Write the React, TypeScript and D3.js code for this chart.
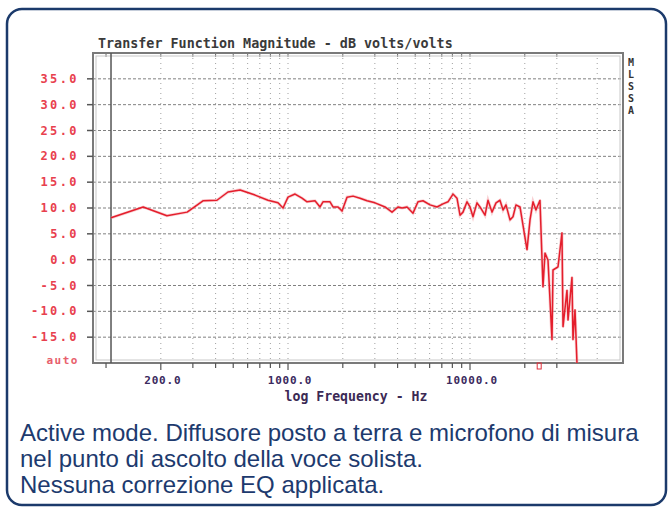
import * as d3 from 'd3';

const freqHz = [106.5, 160, 216, 279, 341, 407, 468, 545, 659, 776, 881, 939, 1000, 1093, 1194, 1272, 1407, 1499, 1557, 1701, 1767, 1883, 1980, 2110, 2276, 2487, 2717, 3006, 3412, 3728, 4021, 4231, 4507, 4862, 5179, 5518, 6029, 6587, 7105, 7570, 8065, 8483, 8812, 9152, 9628, 10000, 10387, 10925, 11350, 12090, 12560, 13210, 13900, 14610, 15190, 15770, 16590, 17230, 17890, 18830, 19550, 20570, 21370, 22190, 23040, 24240, 25180, 25830, 26830, 28220, 28580, 30450, 32020, 32440, 34120, 34560, 36340, 36800, 37760, 38710];
const magDb = [8.1, 10.2, 8.5, 9.2, 11.4, 11.5, 13.1, 13.5, 12.5, 11.5, 11.0, 10.0, 12.1, 12.7, 11.9, 11.2, 11.4, 10.2, 11.2, 11.2, 10.2, 10.2, 9.4, 12.1, 12.3, 11.9, 11.4, 11.0, 10.2, 9.2, 10.2, 10.0, 10.2, 9.0, 11.2, 11.4, 10.6, 10.2, 10.8, 11.2, 12.7, 11.9, 8.6, 9.2, 11.2, 10.2, 8.3, 11.0, 10.2, 8.6, 11.5, 9.2, 11.0, 11.5, 9.6, 10.6, 7.7, 8.3, 10.6, 10.2, 6.7, 1.9, 7.7, 11.2, 9.6, 11.5, -5.3, 1.3, -0.1, -15.5, -2.0, -1.4, 5.2, -13.0, -5.9, -11.7, -3.4, -15.5, -9.7, -20];

const yTicks = [35, 30, 25, 20, 15, 10, 5, 0, -5, -10, -15];
const xLabelTicks = [200, 1000, 10000];
const xMinorTicks = [100, 200, 300, 400, 500, 600, 700, 800, 900, 1000, 2000, 3000, 4000, 5000, 6000, 7000, 8000, 9000, 10000, 20000, 30000];
const xGrid = [200, 300, 400, 500, 600, 700, 800, 900, 1000, 2000, 3000, 4000, 5000, 6000, 7000, 8000, 9000, 10000, 20000, 30000, 50000];
const sideLabel = ['M', 'L', 'S', 'S', 'A'];
const caption = [
  'Active mode. Diffusore posto a terra e microfono di misura',
  'nel punto di ascolto della voce solista.',
  'Nessuna correzione EQ applicata.',
];

const W = 672;
const H = 507;
const plot = { left: 93, right: 623, top: 53, bottom: 363 };

const x = d3.scaleLog().domain([84.8, 69300]).range([plot.left, plot.right]);
const y = d3.scaleLinear().domain([-20, 40]).range([plot.bottom, plot.top]);

const mono = '"DejaVu Sans Mono", monospace';

export default function App() {
  const pts: [number, number][] = freqHz.map((f, i) => [f, magDb[i]]);
  const line = d3.line<[number, number]>()
    .x(d => x(d[0]))
    .y(d => y(d[1]));

  return (
    <svg width={W} height={H} style={{ position: 'absolute', left: 0, top: 0, background: '#fff' }}>
      <defs>
        <clipPath id="plotClip">
          <rect x={plot.left} y={plot.top} width={plot.right - plot.left} height={plot.bottom - plot.top} />
        </clipPath>
      </defs>

      {/* outer rounded panel */}
      <rect x={7} y={9} width={659} height={496} rx={15} fill="#fff" stroke="#1b3a6b" strokeWidth={2.5} />

      <text x={98} y={48} fontFamily={mono} fontWeight="bold" fontSize={13.4} fill="#3a3a3a">
        Transfer Function Magnitude - dB volts/volts
      </text>

      {/* grid */}
      {yTicks.map(t => (
        <line key={'hy' + t} x1={plot.left} x2={plot.right} y1={y(t)} y2={y(t)}
          stroke="#808080" strokeWidth={1} strokeDasharray="3,2" />
      ))}
      {xGrid.map(t => (
        <line key={'gx' + t} x1={x(t)} x2={x(t)} y1={plot.top} y2={plot.bottom}
          stroke="#a0a0a0" strokeWidth={1} strokeDasharray="1,4" />
      ))}

      {/* top ticks inside frame */}
      {xMinorTicks.map(t => (
        <line key={'tt' + t} x1={x(t)} x2={x(t)} y1={plot.top} y2={plot.top + 4} stroke="#666" strokeWidth={1} />
      ))}

      {/* frame */}
      <rect x={plot.left} y={plot.top} width={plot.right - plot.left} height={plot.bottom - plot.top}
        fill="none" stroke="#7a7a7a" strokeWidth={2} />
      <rect x={plot.left + 3} y={plot.top + 3} width={plot.right - plot.left - 6} height={plot.bottom - plot.top - 6}
        fill="none" stroke="#c8c8c8" strokeWidth={1} />

      {/* cursor line at start of data */}
      <line x1={x(freqHz[0])} x2={x(freqHz[0])} y1={plot.top} y2={plot.bottom} stroke="#555" strokeWidth={1.5} />

      {/* response curve */}
      <g clipPath="url(#plotClip)">
        <path d={line(pts) ?? ''} fill="none" stroke="#f4a0a6" strokeWidth={3} strokeOpacity={0.5} />
        <path d={line(pts) ?? ''} fill="none" stroke="#e41e2c" strokeWidth={1.5} strokeLinejoin="round" />
      </g>

      {/* y axis */}
      {yTicks.map(t => (
        <g key={'yt' + t}>
          <line x1={plot.left - 6} x2={plot.left} y1={y(t)} y2={y(t)} stroke="#555" strokeWidth={1.5} />
          <text x={79} y={y(t) + 4} textAnchor="end" fontFamily={mono} fontWeight="bold" fontSize={12}
            letterSpacing={2.4} fill="#e8404e">{t.toFixed(1)}</text>
        </g>
      ))}
      <text x={79} y={plot.bottom + 1} textAnchor="end" fontFamily={mono} fontWeight="bold" fontSize={11}
        letterSpacing={1.5} fill="#e8606c">auto</text>

      {/* x axis ticks */}
      {xMinorTicks.map(t => (
        <line key={'bt' + t} x1={x(t)} x2={x(t)} y1={plot.bottom} y2={plot.bottom + (xLabelTicks.includes(t) ? 7 : 5)}
          stroke="#555" strokeWidth={1.2} />
      ))}
      <rect x={x(24000) - 2} y={plot.bottom} width={4} height={6} fill="none" stroke="#e0303c" strokeWidth={1} />
      {xLabelTicks.map(t => (
        <text key={'xl' + t} x={x(t) + 2} y={384} textAnchor="middle" fontFamily={mono} fontWeight="bold"
          fontSize={11} letterSpacing={0.8} fill="#3b2a5e">{t.toFixed(1)}</text>
      ))}
      <text x={356} y={401} textAnchor="middle" fontFamily={mono} fontWeight="bold" fontSize={13.2}
        fill="#3b2a55">log Frequency - Hz</text>

      {/* MLSSA vertical tag */}
      {sideLabel.map((c, i) => (
        <text key={'s' + i} x={631} y={66 + i * 12} textAnchor="middle" fontFamily={mono} fontWeight="bold"
          fontSize={10} fill="#333">{c}</text>
      ))}

      {/* caption */}
      {caption.map((c, i) => (
        <text key={'c' + i} x={20} y={441 + i * 26} fontFamily='"Liberation Sans", Arial, sans-serif'
          fontSize={24} fill="#1d3a6e">{c}</text>
      ))}
    </svg>
  );
}
